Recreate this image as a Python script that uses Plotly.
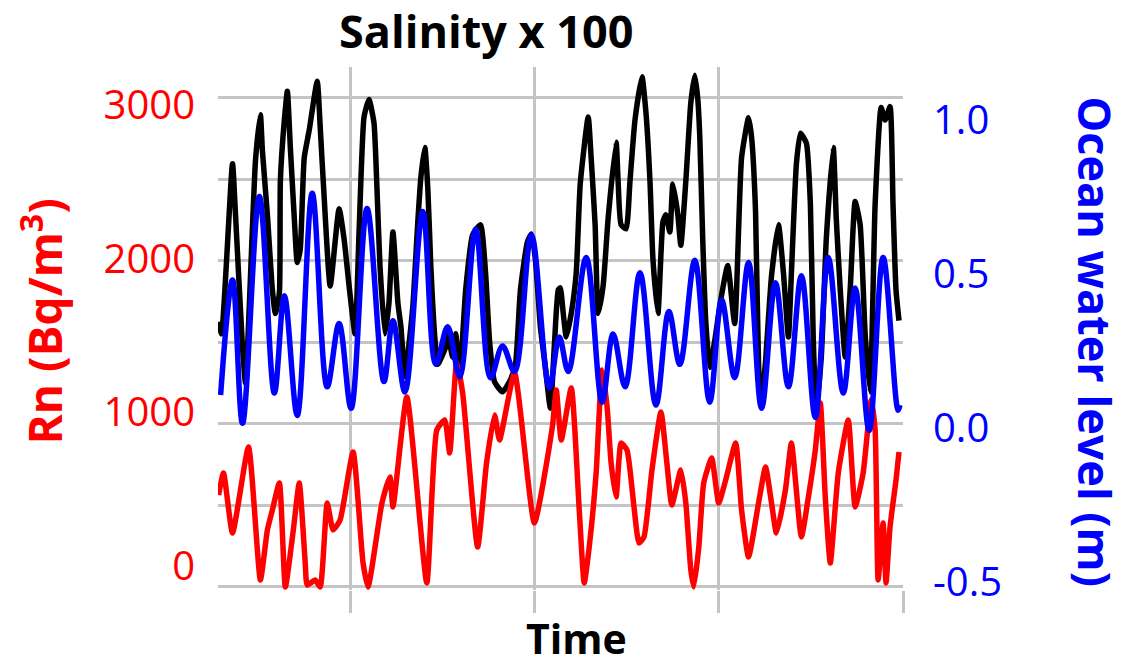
import plotly.graph_objects as go

# ---------------- data (time in hours) ----------------
salinity_time = [6.88, 7.26, 8.69, 9.08, 9.99, 10.38, 11.68, 12.32, 12.58, 13.23, 13.88, 14.27, 14.79, 14.92,
                 15.44, 15.83, 16.22, 16.74, 17.12, 17.51, 18.03, 18.68, 19.72, 20.11, 20.63, 21.41, 22.57,
                 23.22, 23.87, 24.65, 25.17, 25.82, 26.46, 27.11, 27.50, 27.89, 28.54, 29.06, 29.58, 30.23,
                 30.62, 31.14, 31.52, 32.17, 32.82, 33.21, 33.73, 34.12, 34.51, 35.03, 35.42, 36.45, 36.71,
                 37.36, 37.75, 38.27, 39.05, 39.96, 40.99, 41.64, 42.16, 42.81, 43.85, 44.89, 45.54, 46.18,
                 47.09, 47.61, 48.13, 48.78, 49.43, 50.08, 50.59, 51.11, 51.37, 51.76, 52.15, 52.80, 53.45,
                 53.97, 55.01, 55.39, 55.91, 56.30, 56.95, 57.60, 58.64, 58.90, 59.29, 59.94, 60.45, 61.10,
                 62.01, 62.53, 63.05, 63.44, 64.09, 64.74, 65.12, 65.64, 66.03, 66.68, 67.07, 67.72, 68.37,
                 68.89, 69.28, 69.54, 69.92, 70.31, 70.83, 71.48, 72.26, 73.17, 74.08, 74.98, 75.89, 76.28,
                 76.80, 77.19, 77.58, 78.10, 78.88, 79.78, 80.43, 81.08, 81.47, 82.12, 82.64, 83.42, 83.94,
                 84.32, 84.71, 85.36, 86.01, 86.92, 87.31, 87.83, 88.48, 89.12, 89.77, 90.42, 91.07, 91.72,
                 92.37, 93.15, 93.67, 94.31, 94.70, 95.09, 95.48]
salinity_x100 = [1628, 1553, 2597, 2284, 1472, 1253, 2616, 2897, 2678, 2284, 1822, 1678, 1803, 2491,
                 2865, 3041, 2696, 2259, 1990, 2072, 2634, 2803, 3103, 2822, 2385, 1847, 2321,
                 2134, 1847, 1553, 2178, 2884, 2991, 2847, 2447, 1972, 1553, 1741, 2178, 1741,
                 1597, 1291, 1428, 1722, 2241, 2509, 2696, 2447, 1972, 1534, 1366, 1472, 1553,
                 1410, 1553, 1291, 1822, 2160, 2222, 1928, 1510, 1259, 1197, 1272, 1366, 1822,
                 2116, 2166, 2010, 1597, 1347, 1097, 1472, 1822, 1835, 1678, 1534, 1678, 1928,
                 2472, 2884, 2634, 2222, 1678, 1847, 2259, 2728, 2491, 2222, 2197, 2491, 2865,
                 3130, 2909, 2491, 2010, 1678, 2241, 2284, 2178, 2472, 2284, 2096, 2491, 2971,
                 3140, 2991, 2760, 2134, 1634, 1347, 1510, 1759, 1972, 1616, 2634, 2878, 2760,
                 2303, 1366, 1115, 1384, 1909, 2222, 1928, 1534, 1928, 2597, 2784, 2722, 2347,
                 1510, 1097, 1410, 2134, 2696, 2259, 1822, 1410, 1822, 2365, 2222, 1553, 1197,
                 2347, 2941, 2865, 2947, 2347, 1822, 1634]

level_time = [7.14, 8.69, 9.99, 12.19, 14.14, 15.44, 17.12, 19.07, 21.02, 22.57, 24.13, 26.21, 28.41,
              29.58, 31.14, 33.47, 35.16, 36.71, 38.27, 40.35, 42.29, 43.85, 45.41, 47.61, 49.95, 51.24,
              52.41, 54.75, 56.82, 58.25, 59.81, 61.75, 63.83, 65.51, 66.94, 68.89, 70.83, 72.39, 74.08,
              75.89, 77.58, 79.39, 81.08, 82.77, 84.58, 86.27, 88.22, 89.77, 91.59, 93.41, 95.35, 95.61]
ocean_level = [0.089, 0.442, 0.002, 0.698, 0.095, 0.393, 0.026, 0.708, 0.114, 0.308, 0.048, 0.661, 0.130,
               0.317, 0.098, 0.652, 0.183, 0.298, 0.145, 0.598, 0.142, 0.239, 0.161, 0.580, 0.111, 0.267,
               0.161, 0.511, 0.067, 0.276, 0.114, 0.464, 0.058, 0.345, 0.183, 0.502, 0.067, 0.380, 0.142,
               0.495, 0.048, 0.433, 0.114, 0.455, 0.020, 0.511, 0.095, 0.417, -0.020, 0.511, 0.042, 0.058]

rn_time = [6.88, 7.52, 8.69, 10.77, 12.32, 13.23, 13.88, 14.79, 15.57, 16.61, 17.38, 18.16, 18.42, 19.46,
           20.11, 21.02, 21.79, 22.70, 24.39, 25.69, 26.34, 28.15, 29.19, 29.58, 31.39, 33.99, 35.29, 36.32,
           36.97, 37.88, 38.66, 40.61, 41.77, 42.81, 43.46, 45.41, 48.00, 50.34, 50.85, 51.50, 52.80, 53.84,
           54.49, 55.14, 56.04, 56.82, 57.47, 57.99, 58.64, 59.29, 60.06, 60.97, 61.62, 62.27, 63.31, 64.48,
           65.25, 65.90, 67.07, 67.72, 68.37, 68.76, 69.41, 70.05, 71.09, 72.00, 72.91, 74.21, 74.98, 75.89,
           77.19, 78.10, 78.88, 79.52, 80.69, 81.47, 82.77, 83.68, 84.58, 85.23, 85.88, 86.53, 87.57, 88.87,
           89.77, 90.81, 91.85, 92.37, 92.76, 93.41, 93.79, 94.31, 95.09, 95.48]
rn = [564, 699, 331, 859, 43, 350, 472, 638, 0, 350, 638, 147, 12, 43,
      0, 515, 350, 411, 828, 147, 0, 515, 675, 491, 1166, 25, 963, 1025,
      822, 1380, 1190, 245, 761, 1055, 902, 1313, 393, 982, 1209, 902, 1221, 472,
      25, 245, 699, 1331, 1104, 761, 552, 883, 840, 491, 270, 307, 718, 1074,
      761, 503, 718, 515, 104, 0, 245, 638, 791, 515, 656, 883, 472, 184,
      515, 736, 515, 331, 595, 883, 307, 552, 840, 1129, 552, 147, 699, 1025,
      491, 699, 1147, 963, 43, 393, 25, 368, 656, 828]

rn_ticks = [0, 1000, 2000, 3000]
level_ticks = [-0.5, 0.0, 0.5, 1.0]
level_ticktext = ["-0.5", "0.0", "0.5", "1.0"]
grid_ticks = [0, 500, 1000, 1500, 2000, 2500, 3000]
time_ticks = [24, 48, 72, 96]

# ---------------- figure ----------------
GRID = "#c4c4c4"
FONT = "Open Sans"
LW = 5.5

fig = go.Figure()
fig.add_trace(go.Scatter(x=salinity_time, y=salinity_x100, mode="lines", name="Salinity x 100",
                         line=dict(color="#000000", width=LW, shape="spline", smoothing=0.5), yaxis="y"))
fig.add_trace(go.Scatter(x=level_time, y=ocean_level, mode="lines", name="Ocean water level",
                         line=dict(color="#0000ff", width=LW, shape="spline", smoothing=1.0), yaxis="y2"))
fig.add_trace(go.Scatter(x=rn_time, y=rn, mode="lines", name="Rn",
                         line=dict(color="#ff0000", width=LW, shape="spline", smoothing=0.5), yaxis="y"))
# empty helper traces so the two label axes are drawn
fig.add_trace(go.Scatter(x=[], y=[], yaxis="y3", showlegend=False, hoverinfo="skip"))
fig.add_trace(go.Scatter(x=[], y=[], yaxis="y4", showlegend=False, hoverinfo="skip"))

fig.update_layout(
    width=1140, height=666,
    margin=dict(l=218, r=237, t=67, b=76),
    plot_bgcolor="white", paper_bgcolor="white",
    showlegend=False,
    xaxis=dict(range=[6.8, 96.0], tickvals=time_ticks, showticklabels=False,
               showgrid=True, gridcolor=GRID, gridwidth=2.5,
               ticks="outside", ticklen=22, tickcolor=GRID, tickwidth=2.5,
               zeroline=False, showline=False),
    yaxis=dict(range=[-18.6, 3190], tickvals=grid_ticks, showticklabels=False,
               showgrid=True, gridcolor=GRID, gridwidth=2.5, zeroline=False, showline=False),
    yaxis2=dict(range=[-0.5093, 1.0951], overlaying="y", side="right", showgrid=False,
                showticklabels=False, zeroline=False, showline=False),
    yaxis3=dict(range=[-156, 3247], overlaying="y", side="left", showgrid=False, zeroline=False,
                showline=False, tickvals=rn_ticks, ticklabelstandoff=22,
                tickfont=dict(family=FONT, size=40, color="#ff0000")),
    yaxis4=dict(range=[-0.5259, 1.1703], overlaying="y", side="right", showgrid=False, zeroline=False,
                showline=False, tickvals=level_ticks, ticktext=level_ticktext, ticklabelstandoff=29,
                tickfont=dict(family=FONT, size=40, color="#0000ff")),
)

fig.add_annotation(text="<b>Salinity x 100</b>", xref="paper", yref="paper", x=0.3912, y=1.0707,
                   showarrow=False, xanchor="center", yanchor="middle",
                   font=dict(family=FONT, size=45, color="#000000"))
fig.add_annotation(text="<b>Time</b>", xref="paper", yref="paper", x=0.524, y=-0.0925,
                   showarrow=False, xanchor="center", yanchor="middle",
                   font=dict(family=FONT, size=41, color="#000000"))
fig.add_annotation(text="<b>Rn (Bq/m<sup>3</sup>)</b>", xref="paper", yref="paper", x=-0.2569, y=0.5134,
                   showarrow=False, xanchor="center", yanchor="middle", textangle=-90,
                   font=dict(family=FONT, size=46, color="#ff0000"))
fig.add_annotation(text="<b>Ocean water level (m)</b>", xref="paper", yref="paper", x=1.281, y=0.4742,
                   showarrow=False, xanchor="center", yanchor="middle", textangle=90,
                   font=dict(family=FONT, size=45, color="#0000ff"))

fig.write_html("out.html", config={"displayModeBar": False},
               post_script="document.body.style.margin='0px';")
